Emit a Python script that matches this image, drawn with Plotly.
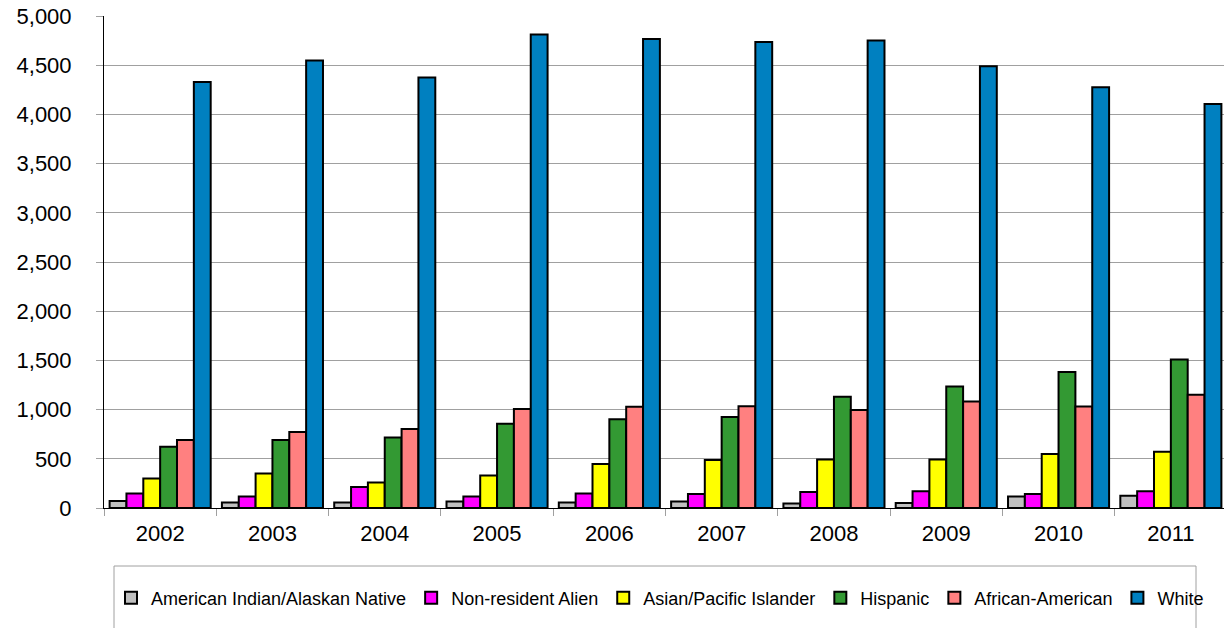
import plotly.graph_objects as go

years = ["2002", "2003", "2004", "2005", "2006", "2007", "2008", "2009", "2010", "2011"]
american_indian = [70, 55, 55, 65, 55, 65, 47, 51, 118, 125]
non_resident = [148, 118, 213, 118, 148, 142, 162, 169, 142, 169]
asian_pacific = [300, 351, 260, 331, 447, 487, 494, 494, 548, 572]
hispanic = [622, 690, 717, 856, 903, 924, 1130, 1235, 1381, 1509]
african_american = [691, 772, 802, 1005, 1028, 1035, 995, 1083, 1032, 1152]
white = [4328, 4548, 4375, 4812, 4765, 4737, 4751, 4490, 4277, 4105]

series = [
    ("American Indian/Alaskan Native", american_indian, "#C0C0C0"),
    ("Non-resident Alien", non_resident, "#FF00FF"),
    ("Asian/Pacific Islander", asian_pacific, "#FFFF00"),
    ("Hispanic", hispanic, "#339933"),
    ("African-American", african_american, "#FF8080"),
    ("White", white, "#0080C0"),
]

FONT = "Liberation Sans, Arial, sans-serif"

fig = go.Figure()
for name, vals, color in series:
    fig.add_trace(go.Bar(
        x=years, y=vals, name=name,
        marker=dict(color=color, line=dict(color="#000000", width=2)),
    ))

W, H = 1224, 628
ml, mr, mt, mb = 104, 0, 16, 120
pw = W - ml - mr
ph = H - mt - mb

def px_x(p):
    return (p - ml) / pw

def px_y(p):
    return (H - mb - p) / ph

fig.update_layout(
    width=W, height=H,
    margin=dict(l=ml, r=mr, t=mt, b=mb),
    paper_bgcolor="white", plot_bgcolor="white",
    barmode="group", bargap=0.1, bargroupgap=0,
    font=dict(family=FONT, color="#000000"),
    showlegend=True,
    legend=dict(
        orientation="h",
        x=px_x(660), xanchor="center",
        y=px_y(598), yanchor="middle",
        font=dict(family=FONT, size=18, color="#000000"),
        bgcolor="rgba(0,0,0,0)",
        traceorder="normal",
        itemwidth=30,
    ),
    shapes=[dict(
        type="rect", xref="paper", yref="paper",
        x0=px_x(114), x1=px_x(1196), y0=px_y(566), y1=px_y(650),
        line=dict(color="#A0A0A0", width=1), fillcolor="rgba(0,0,0,0)",
        layer="below",
    )],
)

fig.update_xaxes(
    type="category",
    range=[-0.5, -0.5 + pw / 112.3],
    tickson="boundaries",
    ticks="outside", ticklen=7, tickcolor="#A0A0A0", tickwidth=1,
    showgrid=False,
    showline=True, linecolor="#000000", linewidth=1,
    tickfont=dict(family=FONT, size=22, color="#000000"),
    ticklabelstandoff=6,
)

fig.update_yaxes(
    range=[0, 5000],
    dtick=500,
    tickformat=",d",
    ticks="outside", ticklen=7, tickcolor="#A0A0A0", tickwidth=1,
    showgrid=True, gridcolor="#A0A0A0", gridwidth=1,
    showline=True, linecolor="#000000", linewidth=1,
    zeroline=False,
    tickfont=dict(family=FONT, size=22, color="#000000"),
    ticklabelstandoff=20,
)

fig.write_html(
    "out.html",
    config={"displayModeBar": False},
    post_script="document.body.style.margin='0';document.body.style.overflow='hidden';",
)
